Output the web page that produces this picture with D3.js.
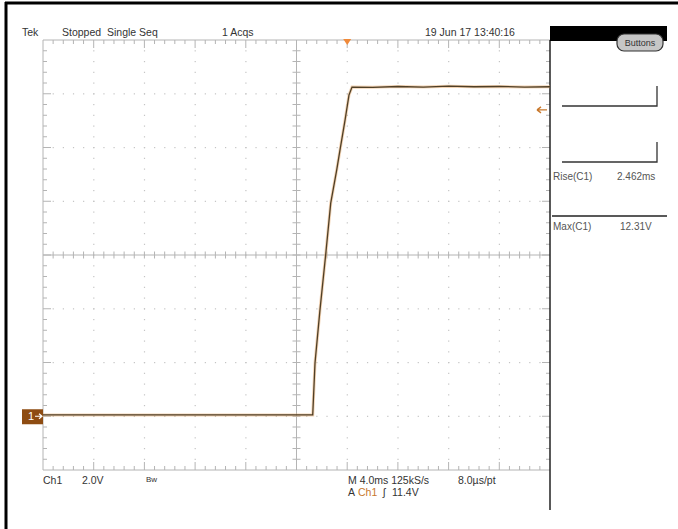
<!DOCTYPE html>
<html><head><meta charset="utf-8">
<script src="https://cdn.jsdelivr.net/npm/d3@7"></script>
<style>
html,body{margin:0;padding:0;background:#fff;}
svg{display:block;}
text{font-family:"Liberation Sans",Arial,sans-serif;}
</style></head>
<body>
<svg id="c" width="678" height="529"></svg>
<script>
// ---- data ----
const timeMs = [-24, -2.72, -2.54, -2.15, -1.70, -1.30, -0.83, -0.57, -0.17, 0.14, 0.38, 2, 4, 6, 8, 10, 12, 14, 16];
const volts  = [0.05, 0.05, 1.98, 3.95, 6.0, 7.93, 9.16, 9.9, 11.02, 11.95, 12.25, 12.24, 12.27, 12.25, 12.28, 12.26, 12.27, 12.25, 12.26];
const timeDomain = [-24, 16];      // ms (4.0 ms/div, 10 div)
const voltDomain = [-2, 14];       // V  (2.0 V/div, 8 div)
const triggerLevel = 11.4;
const headerLabels = ["Tek", "Stopped  Single Seq", "1 Acqs", "19 Jun 17 13:40:16"];
const measureNames = ["Rise(C1)", "Max(C1)"];
const measureValues = ["2.462ms", "12.31V"];
const footerLine1 = ["Ch1", "2.0V", "Bw", "M 4.0ms 125kS/s", "8.0\u00b5s/pt"];
const footerLine2 = ["A", "Ch1", "\u0283", "11.4V"];

// ---- layout ----
const svg = d3.select("#c");
const L = 43, R = 550, T = 40, B = 470;
const x = d3.scaleLinear().domain(timeDomain).range([L, R]);
const y = d3.scaleLinear().domain(voltDomain).range([B, T]);
const nx = 10, ny = 8;
const dx = (R - L) / nx, dy = (B - T) / ny;
const cx = L + dx * 5, cy = T + dy * 4;

svg.append("rect").attr("width", 678).attr("height", 529).attr("fill", "#fff");

// outer frame (left and top)
svg.append("line").attr("x1", 6).attr("x2", 6).attr("y1", 2).attr("y2", 529).attr("stroke", "#000").attr("stroke-width", 3);
svg.append("line").attr("x1", 5).attr("x2", 678).attr("y1", 3).attr("y2", 3).attr("stroke", "#000").attr("stroke-width", 3);

const g = svg.append("g");
const gridCol = "#b4b4b4";

// dotted grid
for (let i = 1; i < nx; i++) {
  if (i === 5) continue;
  const xx = L + i * dx;
  for (let k = 1; k < ny * 5; k++) {
    g.append("rect").attr("x", xx - 0.5).attr("y", T + k * dy / 5 - 0.5).attr("width", 1.2).attr("height", 1.2).attr("fill", "#c4c4c4");
  }
}
for (let j = 1; j < ny; j++) {
  if (j === 4) continue;
  const yy = T + j * dy;
  for (let k = 1; k < nx * 5; k++) {
    g.append("rect").attr("x", L + k * dx / 5 - 0.5).attr("y", yy - 0.5).attr("width", 1.2).attr("height", 1.2).attr("fill", "#c4c4c4");
  }
}

// center cross
g.append("line").attr("x1", L).attr("x2", R).attr("y1", cy).attr("y2", cy).attr("stroke", gridCol);
g.append("line").attr("x1", cx).attr("x2", cx).attr("y1", T).attr("y2", B).attr("stroke", gridCol);
for (let k = 1; k < nx * 5; k++) {
  const xx = L + k * dx / 5;
  g.append("line").attr("x1", xx).attr("x2", xx).attr("y1", cy - 3.5).attr("y2", cy + 3.5).attr("stroke", gridCol);
}
for (let k = 1; k < ny * 5; k++) {
  const yy = T + k * dy / 5;
  g.append("line").attr("x1", cx - 4).attr("x2", cx + 4).attr("y1", yy).attr("y2", yy).attr("stroke", gridCol);
}

// border with inward ticks
g.append("line").attr("x1", L).attr("x2", R).attr("y1", T).attr("y2", T).attr("stroke", gridCol);
g.append("line").attr("x1", L).attr("x2", R).attr("y1", B).attr("y2", B).attr("stroke", gridCol);
g.append("line").attr("x1", L).attr("x2", L).attr("y1", T).attr("y2", B).attr("stroke", gridCol);
for (let k = 1; k < nx * 5; k++) {
  const xx = L + k * dx / 5, len = (k % 5 === 0) ? 8 : 4;
  g.append("line").attr("x1", xx).attr("x2", xx).attr("y1", T).attr("y2", T + len).attr("stroke", gridCol);
  g.append("line").attr("x1", xx).attr("x2", xx).attr("y1", B).attr("y2", B - len).attr("stroke", gridCol);
}
for (let k = 1; k < ny * 5; k++) {
  const yy = T + k * dy / 5, len = (k % 5 === 0) ? 8 : 4;
  g.append("line").attr("x1", L).attr("x2", L + len).attr("y1", yy).attr("y2", yy).attr("stroke", gridCol);
  g.append("line").attr("x1", R).attr("x2", R - len).attr("y1", yy).attr("y2", yy).attr("stroke", gridCol);
}

// right separator line
svg.append("line").attr("x1", R).attr("x2", R).attr("y1", T).attr("y2", 510).attr("stroke", "#222").attr("stroke-width", 1.5);

// trace
const pts = timeMs.map((t, i) => [t, volts[i]]);
const line = d3.line().x(d => x(d[0])).y(d => y(d[1]));
svg.append("path").datum(pts).attr("d", line).attr("fill", "none").attr("stroke", "#e6a86a").attr("stroke-opacity", 0.5).attr("stroke-width", 3);
svg.append("path").datum(pts).attr("d", line).attr("fill", "none").attr("stroke", "#4f3f26").attr("stroke-width", 1.3);

// trigger position marker (top)
const tx = x(0);
svg.append("path").attr("d", `M${tx - 4},${T - 1} L${tx + 4},${T - 1} L${tx},${T + 5} Z`).attr("fill", "#f08a3a");
// trigger level arrow (right edge)
const ty = y(triggerLevel);
svg.append("path").attr("d", `M${R - 13},${ty} L${R - 3},${ty} M${R - 13},${ty} L${R - 9},${ty - 3} M${R - 13},${ty} L${R - 9},${ty + 3}`)
  .attr("stroke", "#c8782c").attr("stroke-width", 1.3).attr("fill", "none");

// channel 1 ground marker
const gy = y(0);
svg.append("rect").attr("x", 22).attr("y", gy - 7).attr("width", 21).attr("height", 15).attr("fill", "#8e4c12");
svg.append("text").attr("x", 28).attr("y", gy + 4).attr("fill", "#fff").attr("font-size", 11).text("1");
svg.append("path").attr("d", `M35,${gy} L42,${gy} M39,${gy - 2.5} L42,${gy} L39,${gy + 2.5}`).attr("stroke", "#fff").attr("stroke-width", 1.2).attr("fill", "none");

// header
const txtCol = "#333";
const hdrX = [22, 62, 222, 425];
headerLabels.forEach((s, i) => {
  svg.append("text").attr("x", hdrX[i]).attr("y", 36).attr("font-size", 10.5).attr("fill", txtCol).attr("xml:space", "preserve").text(s);
});

// right panel
svg.append("rect").attr("x", R).attr("y", 26).attr("width", 117).attr("height", 15).attr("fill", "#000");
svg.append("rect").attr("x", 617).attr("y", 34).attr("width", 46).attr("height", 17).attr("rx", 7).attr("fill", "#c6c6c6").attr("stroke", "#333").attr("stroke-width", 1.2);
svg.append("text").attr("x", 640).attr("y", 46).attr("text-anchor", "middle").attr("font-size", 9).attr("fill", "#333").text("Buttons");

const brk = svg.append("g").attr("stroke", "#333").attr("stroke-width", 1.3).attr("fill", "none");
[[86, 106], [142, 162]].forEach(([a, b]) => {
  brk.append("path").attr("d", `M562,${b} L657,${b} L657,${a}`);
});
svg.append("line").attr("x1", 552).attr("x2", 667).attr("y1", 216).attr("y2", 216).attr("stroke", "#222").attr("stroke-width", 1.3);

const mY = [180, 230];
measureNames.forEach((s, i) => {
  svg.append("text").attr("x", 553).attr("y", mY[i]).attr("font-size", 10).attr("fill", "#555").text(s);
  svg.append("text").attr("x", i === 0 ? 617 : 620).attr("y", mY[i]).attr("font-size", 10).attr("fill", "#555").text(measureValues[i]);
});

// footer
const f1X = [43, 82, 146, 348, 458];
footerLine1.forEach((s, i) => {
  const t = svg.append("text").attr("x", f1X[i]).attr("y", 484).attr("font-size", i === 2 ? 8 : 10.5).attr("fill", txtCol);
  if (i === 2) t.attr("y", 482);
  t.text(s);
});
const f2X = [348, 358, 383, 392];
footerLine2.forEach((s, i) => {
  svg.append("text").attr("x", f2X[i]).attr("y", 496).attr("font-size", 10.5)
    .attr("fill", i === 1 ? "#c8782c" : txtCol).text(s);
});
</script>
</body></html>
